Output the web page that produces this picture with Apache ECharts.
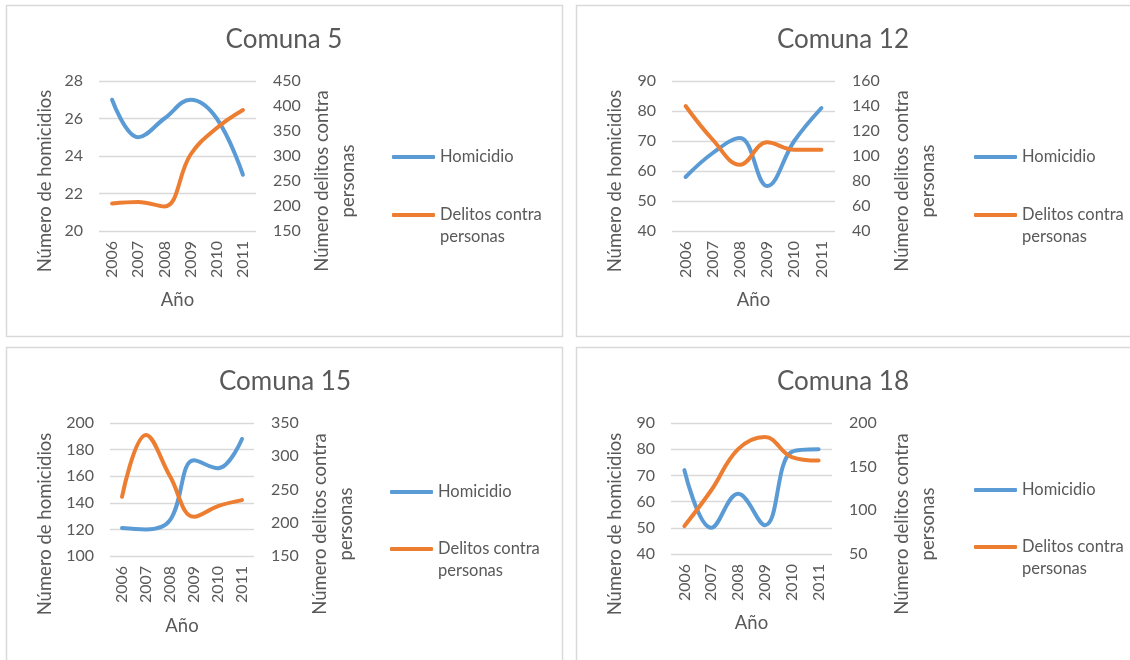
<!DOCTYPE html>
<html>
<head>
<meta charset="utf-8">
<title>Homicidios y delitos contra personas por comuna</title>
<script src="https://cdn.jsdelivr.net/npm/echarts@6/dist/echarts.min.js"></script>
<style>
    html, body { margin: 0; padding: 0; background: #fff; }
    #chart { width: 1130px; height: 660px; }
</style>
</head>
<body>
<div id="chart"></div>
<script>
// datos
const years = ['2006', '2007', '2008', '2009', '2010', '2011']

const homicidiosC5 = [27, 25, 26, 27, 26, 23]
const delitosC5 = [205, 208, 199, 303, 356, 392]
const homicidiosC12 = [58, 66, 71, 55, 70, 81]
const delitosC12 = [140, 113, 93, 111, 105, 105]
const homicidiosC15 = [121, 120, 127, 172, 166, 188]
const delitosC15 = [239, 332, 270, 209, 225, 234]
const homicidiosC18 = [72, 50, 63, 51, 79, 80]
const delitosC18 = [82, 123, 170, 184, 161, 157]

// ejes: [min, max, intervalo]
const ejeHomC5 = [20, 28, 2]
const ejeDelC5 = [150, 450, 50]
const ejeHomC12 = [40, 90, 10]
const ejeDelC12 = [40, 160, 20]
const ejeHomC15 = [100, 200, 20]
const ejeDelC15 = [150, 350, 50]
const ejeHomC18 = [40, 90, 10]
const ejeDelC18 = [50, 200, 50]

const SERIE_HOM = 'Homicidio'
const SERIE_DEL = 'Delitos contra personas'
const COLOR_HOM = '#5B9BD5'
const COLOR_DEL = '#ED7D31'
const TEXT_COLOR = '#595959'
const FONT = 'Lato, "Open Sans", sans-serif'

const PANELS = [
    {
        name: 'Comuna 5', hom: homicidiosC5, del: delitosC5, ejeHom: ejeHomC5, ejeDel: ejeDelC5,
        box: [6, 5, 556, 331], grid: [99, 81, 157, 150],
        titleX: 284, titleY: 40, leftNameX: 45, rightNameX: 335, nameY: 181, anioY: 300,
        legendX: 392, legendY: [157, 215],
    },
    {
        name: 'Comuna 12', hom: homicidiosC12, del: delitosC12, ejeHom: ejeHomC12, ejeDel: ejeDelC12,
        box: [576, 5, 570, 331], grid: [672, 81, 163, 150],
        titleX: 843, titleY: 40, leftNameX: 615, rightNameX: 915, nameY: 181, anioY: 300,
        legendX: 974, legendY: [157, 215],
    },
    {
        name: 'Comuna 15', hom: homicidiosC15, del: delitosC15, ejeHom: ejeHomC15, ejeDel: ejeDelC15,
        box: [6, 347, 556, 340], grid: [110, 423, 144, 133],
        titleX: 285, titleY: 382, leftNameX: 45, rightNameX: 333, nameY: 524, anioY: 626,
        legendX: 390, legendY: [492, 549],
    },
    {
        name: 'Comuna 18', hom: homicidiosC18, del: delitosC18, ejeHom: ejeHomC18, ejeDel: ejeDelC18,
        box: [576, 347, 570, 340], grid: [671, 423, 161, 131],
        titleX: 843, titleY: 382, leftNameX: 615, rightNameX: 915, nameY: 524, anioY: 623,
        legendX: 974, legendY: [490, 547],
    },
]

/**
 * @description textos fijos de cada panel: marco, titulo y nombres de ejes
 * @param {*} p
 */
const panelGraphics = (p) => {
    const [gl, gt, gw, gh] = p.grid
    const txt = (x, y, text, size, rotation = 0, extra = {}) => ({
        type: 'text', x, y, rotation, silent: true,
        style: Object.assign({
            text, fill: TEXT_COLOR, font: `${size}px ${FONT}`,
            align: 'center', verticalAlign: 'middle',
        }, extra),
    })
    return [
        {
            type: 'rect', silent: true,
            shape: { x: p.box[0] + 0.5, y: p.box[1] + 0.5, width: p.box[2], height: p.box[3] },
            style: { fill: 'none', stroke: '#d9d9d9', lineWidth: 1.5 },
        },
        txt(p.titleX, p.titleY, p.name, 26),
        txt(p.leftNameX, p.nameY, 'Número de homicidios', 18.5, Math.PI / 2),
        txt(p.rightNameX, p.nameY, 'Número delitos contra\npersonas', 18.5, Math.PI / 2, { lineHeight: 26 }),
        txt(gl + gw / 2, p.anioY, 'Año', 18.5),
    ]
}

const buildOption = () => {
    const option = {
        animation: false,
        textStyle: { fontFamily: FONT, color: TEXT_COLOR },
        grid: [], xAxis: [], yAxis: [], series: [], legend: [], graphic: [],
    }
    PANELS.forEach((p, i) => {
        const [gl, gt, gw, gh] = p.grid
        option.grid.push({ left: gl, top: gt, width: gw, height: gh })
        option.xAxis.push({
            type: 'category', gridIndex: i, data: years, boundaryGap: true,
            axisLine: { show: false }, axisTick: { show: false },
            axisLabel: { rotate: 90, interval: 0, margin: 10, fontSize: 16, color: TEXT_COLOR },
        })
        option.yAxis.push({
            type: 'value', gridIndex: i, position: 'left',
            min: p.ejeHom[0], max: p.ejeHom[1], interval: p.ejeHom[2],
            axisLine: { show: false }, axisTick: { show: false },
            axisLabel: { margin: 16, fontSize: 16, color: TEXT_COLOR },
            splitLine: { lineStyle: { color: '#d9d9d9', width: 1.3 } },
        })
        option.yAxis.push({
            type: 'value', gridIndex: i, position: 'right',
            min: p.ejeDel[0], max: p.ejeDel[1], interval: p.ejeDel[2],
            axisLine: { show: false }, axisTick: { show: false },
            axisLabel: { margin: 17, fontSize: 16, color: TEXT_COLOR },
            splitLine: { show: false },
        })
        const lineSerie = (name, data, color, yIdx) => ({
            name, type: 'line', data, xAxisIndex: i, yAxisIndex: yIdx,
            smooth: 0.4, symbol: 'none', color,
            lineStyle: { width: 4, color, cap: 'round', join: 'round' },
        })
        option.series.push(lineSerie(SERIE_HOM, p.hom, COLOR_HOM, i * 2))
        option.series.push(lineSerie(SERIE_DEL, p.del, COLOR_DEL, i * 2 + 1))

        // leyenda: una por elemento; la linea vacia deja el icono a la altura de la primera linea
        const legendBase = {
            orient: 'vertical', left: p.legendX, padding: 0,
            icon: 'roundRect', itemWidth: 43, itemHeight: 4, selectedMode: false,
            textStyle: { fontSize: 16.5, lineHeight: 22, color: TEXT_COLOR },
        }
        option.legend.push(Object.assign({}, legendBase, {
            top: p.legendY[0] - 11,
            data: [SERIE_HOM],
        }))
        option.legend.push(Object.assign({}, legendBase, {
            top: p.legendY[1] - 33,
            data: [SERIE_DEL],
            formatter: () => '\nDelitos contra\npersonas',
        }))
        option.graphic.push(...panelGraphics(p))
    })
    return option
}

const chartDom = document.getElementById('chart')
const myChart = echarts.init(chartDom)
myChart.setOption(buildOption())
window.addEventListener('resize', () => {
    myChart.resize()
})
</script>
</body>
</html>
